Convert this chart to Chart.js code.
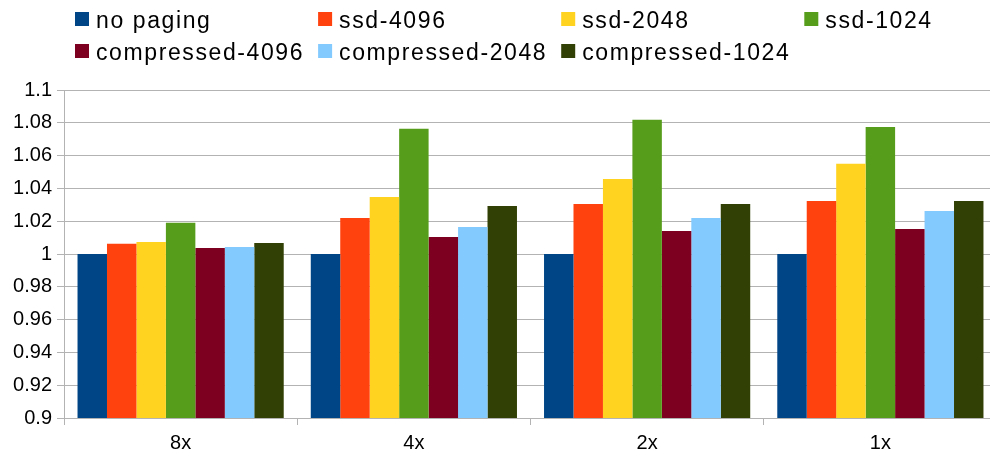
<!DOCTYPE html>
<html>
<head>
<meta charset="utf-8">
<script src="https://cdn.jsdelivr.net/npm/chart.js@4/dist/chart.umd.min.js"></script>
<style>
  html, body { margin: 0; padding: 0; background: #ffffff; overflow: hidden; }
  #wrap { position: relative; width: 1000px; height: 452px; }
</style>
</head>
<body>
<div id="wrap"><canvas id="chart"></canvas></div>
<script>
// Relative run time per memory configuration
const categories = ['8x', '4x', '2x', '1x'];

const noPaging       = [1.0000, 1.0000, 1.0000, 1.0000];
const ssd4096        = [1.0063, 1.0220, 1.0305, 1.0323];
const ssd2048        = [1.0073, 1.0348, 1.0458, 1.0550];
const ssd1024        = [1.0190, 1.0763, 1.0818, 1.0775];
const compressed4096 = [1.0037, 1.0104, 1.0140, 1.0153];
const compressed2048 = [1.0043, 1.0165, 1.0220, 1.0262];
const compressed1024 = [1.0067, 1.0293, 1.0305, 1.0323];

const yTickLabels = ['0.9', '0.92', '0.94', '0.96', '0.98', '1', '1.02', '1.04', '1.06', '1.08', '1.1'];

const seriesNames = ['no paging', 'ssd-4096', 'ssd-2048', 'ssd-1024',
                     'compressed-4096', 'compressed-2048', 'compressed-1024'];
const seriesValues = [noPaging, ssd4096, ssd2048, ssd1024,
                      compressed4096, compressed2048, compressed1024];
const seriesColors = ['#004586', '#ff420e', '#ffd320', '#579d1c',
                      '#7e0021', '#83caff', '#314004'];

const FONT = '"Liberation Sans", Arial, sans-serif';
const GRID = '#b3b3b3';

// Legend laid out as a grid: four equal columns, two rows
const columnLegend = {
  id: 'columnLegend',
  afterDraw(chart) {
    const ctx = chart.ctx;
    const perRow = 4, startX = 75, box = 14, gap = 7, spacing = 14;
    const baselines = [27.5, 59.5];
    ctx.save();
    ctx.font = '23px ' + FONT;
    if ('letterSpacing' in ctx) ctx.letterSpacing = '1.6px';
    const labels = chart.data.datasets.map(d => d.label);
    const widest = Math.max(...labels.map(t => ctx.measureText(t).width));
    const step = box + gap + widest + spacing;
    chart.data.datasets.forEach((ds, i) => {
      const col = i % perRow, row = Math.floor(i / perRow);
      const x = startX + col * step;
      const base = baselines[row];
      ctx.fillStyle = ds.backgroundColor;
      ctx.fillRect(x, base - 15.5, box, box);
      ctx.fillStyle = '#000000';
      ctx.textBaseline = 'alphabetic';
      ctx.textAlign = 'left';
      ctx.fillText(ds.label, x + box + gap, base);
    });
    ctx.restore();
  }
};

new Chart(document.getElementById('chart'), {
  type: 'bar',
  data: {
    labels: categories,
    datasets: seriesNames.map((name, i) => ({
      label: name,
      data: seriesValues[i],
      backgroundColor: seriesColors[i],
      borderWidth: 0,
      categoryPercentage: 0.884,
      barPercentage: 1.0
    }))
  },
  options: {
    responsive: true,
    maintainAspectRatio: false,
    animation: false,
    devicePixelRatio: 1,
    layout: { padding: { top: 90, right: 3, left: 0, bottom: 0 } },
    plugins: {
      legend: { display: false },
      tooltip: { enabled: false }
    },
    scales: {
      x: {
        grid: {
          offset: true,
          drawOnChartArea: false,
          drawTicks: true,
          tickLength: 7,
          color: GRID
        },
        border: { color: GRID },
        ticks: {
          color: '#000000',
          font: { family: FONT, size: 20 },
          padding: 6
        },
        afterFit(scale) { scale.height = 34; }
      },
      y: {
        min: 0.9,
        max: 1.1,
        grid: {
          color: GRID,
          lineWidth: 1,
          drawTicks: true,
          tickLength: 7
        },
        border: { color: GRID },
        ticks: {
          stepSize: 0.02,
          color: '#000000',
          font: { family: FONT, size: 20 },
          padding: 5,
          callback: (value, index) => yTickLabels[index]
        },
        afterFit(scale) { scale.width = 64; }
      }
    }
  },
  plugins: [columnLegend]
});
</script>
</body>
</html>
